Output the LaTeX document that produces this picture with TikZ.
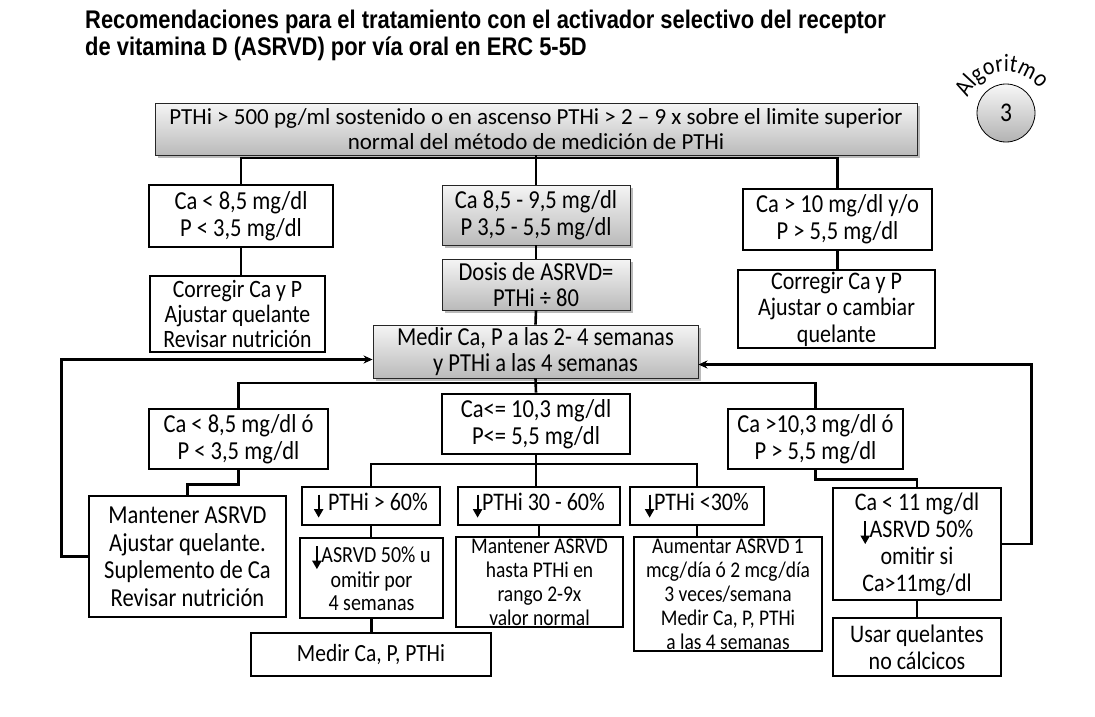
\documentclass[tikz,border=0pt]{standalone}
\usepackage{fontspec}
\setmainfont{Carlito}[FakeStretch=0.87]
\newfontfamily\plainfont{Carlito}
\newfontfamily\titlefont[FakeStretch=0.86]{Liberation Sans}
\usetikzlibrary{arrows.meta,shadows,decorations.text}
\newcommand\fsz[2]{\fontsize{#1}{#2}\selectfont}
\newcommand\darr{\tikz[baseline=0pt,x=1pt,y=1pt]\draw[line width=2.2pt,-{Triangle[length=8.5pt,width=9pt]}] (0,16) -- (0,-7);}
\begin{document}
\begin{tikzpicture}[x=1pt,y=-1pt,
  box/.style={draw, line width=2.6pt, align=center, inner sep=0pt},
  gbox/.style={draw=black!85, line width=0.9pt, align=center, inner sep=0pt,
    top color=black!4, bottom color=black!27,
    drop shadow={shadow xshift=2.5pt, shadow yshift=-2.5pt, opacity=0.45, fill=black!60}},
  link/.style={line width=2.6pt},
  arr/.style={link, -{Stealth[length=9pt,width=8pt]}},
  ttl/.style={anchor=base west, inner sep=0pt, font=\titlefont\bfseries\fsz{25.5}{27}}]
\fill[white] (0,0) rectangle (1095,717);
\useasboundingbox (0,0) rectangle (1095,717);

% title
\node[ttl] (t1) at (85,28.5) {Recomendaciones para el tratamiento con el activador selectivo del receptor};
\node[ttl] (t2) at (85,55.5) {de vitamina D (ASRVD) por vía oral en ERC 5-5D};

% algoritmo badge
\node[circle, draw, line width=0.8pt, minimum size=58pt, inner sep=0pt,
  top color=black!3, bottom color=black!30, font=\fsz{27}{27}] (alg) at (1006,113) {3};
\path[decorate, decoration={text along path, text={|\fsz{25}{25}|Algoritmo}, text align=center}]
  (alg.center) ++(-170:41) arc[start angle=-170, end angle=-24, radius=41];

% nodes
\node[gbox, minimum width=762pt, minimum height=52pt, font=\plainfont\fsz{23}{24.5}] (top) at (536,129)
  {PTHi > 500 pg/ml sostenido o en ascenso PTHi > 2 – 9 x sobre el limite superior\\normal del método de medición de PTHi};

\node[box, minimum width=184pt, minimum height=62pt, font=\fsz{25.9}{27}] (a1) at (241,216) {Ca < 8,5 mg/dl\\P < 3,5 mg/dl};
\node[gbox, minimum width=188pt, minimum height=60pt, font=\fsz{25.9}{27}] (b1) at (536,215) {Ca 8,5 - 9,5 mg/dl\\P 3,5 - 5,5 mg/dl};
\node[box, minimum width=189pt, minimum height=61pt, font=\fsz{25.9}{27}] (c1) at (837.5,219.5) {Ca > 10 mg/dl y/o\\P > 5,5 mg/dl};

\node[box, minimum width=175pt, minimum height=76pt, font=\fsz{25}{25}] (a2) at (237.5,314) {Corregir Ca y P\\Ajustar quelante\\Revisar nutrición};
\node[gbox, minimum width=188pt, minimum height=51pt, font=\fsz{25.9}{26}] (b2) at (536,284.5) {Dosis de ASRVD=\\PTHi ÷ 80};
\node[box, minimum width=197pt, minimum height=78pt, font=\fsz{25.3}{26.5}] (c2) at (836.5,309) {Corregir Ca y P\\Ajustar o cambiar\\quelante};

\node[gbox, minimum width=325pt, minimum height=53pt, font=\fsz{25.9}{26}] (m) at (535.5,351.5) {Medir Ca, P a las 2- 4 semanas\\y PTHi a las 4 semanas};

\node[box, minimum width=179pt, minimum height=60pt, font=\fsz{25.9}{27}] (d1) at (238.5,439) {Ca < 8,5 mg/dl ó\\P < 3,5 mg/dl};
\node[box, minimum width=188pt, minimum height=60pt, font=\fsz{25.9}{27}] (e1) at (536,424) {Ca<= 10,3 mg/dl\\P<= 5,5 mg/dl};
\node[box, minimum width=175pt, minimum height=60pt, font=\fsz{25.9}{27}] (f1) at (815.5,439) {Ca >10,3 mg/dl ó\\P > 5,5 mg/dl};

\node[box, minimum width=197pt, minimum height=121pt, font=\fsz{25.9}{27.5}] (d2) at (187.5,556.5) {Mantener ASRVD\\Ajustar quelante.\\Suplemento de Ca\\Revisar nutrición};
\node[box, minimum width=138pt, minimum height=38pt, font=\fsz{25.3}{26}] (g1) at (371,506) {\darr\ PTHi > 60\%};
\node[box, minimum width=162pt, minimum height=38pt, font=\fsz{25.3}{26}] (h1) at (539,506) {\darr PTHi 30 - 60\%};
\node[box, minimum width=134pt, minimum height=38pt, font=\fsz{25.3}{26}] (i1) at (697,506) {\darr PTHi <30\%};
\node[box, minimum width=168pt, minimum height=112pt, font=\fsz{25.3}{27}] (f2) at (917,544) {Ca < 11 mg/dl\\\darr ASRVD 50\%\\omitir si\\Ca>11mg/dl};

\node[box, minimum width=143pt, minimum height=80pt, font=\fsz{23}{23.5}] (g2) at (371.5,578) {\darr ASRVD 50\% u\\omitir por\\4 semanas};
\node[box, minimum width=167pt, minimum height=90pt, font=\fsz{22.4}{24}] (h2) at (539.5,582) {Mantener ASRVD\\hasta PTHi en\\rango 2-9x\\valor normal};
\node[box, minimum width=188pt, minimum height=114pt, font=\fsz{22.4}{24}] (i2) at (728,594) {Aumentar ASRVD 1\\mcg/día ó 2 mcg/día\\3 veces/semana\\Medir Ca, P, PTHi\\a las 4 semanas};

\node[box, minimum width=240pt, minimum height=43pt, font=\fsz{24.7}{26}] (g3) at (371,654.5) {Medir Ca, P, PTHi};
\node[box, minimum width=168pt, minimum height=58pt, font=\fsz{25.3}{27}] (f3) at (917,647) {Usar quelantes\\no cálcicos};

% connectors
\coordinate (s1) at (536,158);
\draw[link] (a1.north) |- (s1) -| (c1.north);
\draw[link] (top.south) -- (b1.north);
\draw[link] (a1.south) -- (a1.south |- a2.north);
\draw[link] (c1.south) -- (c1.south |- c2.north);
\draw[link] (b1.south) -- (b2.north);
\draw[link] (b2.south) -- (m.north);
\coordinate (s2) at (536,383);
\draw[link] (d1.north) |- (s2) -| (f1.north);
\draw[link] (m.south) -- (e1.north);
\draw[link] (d1.south) -- ++(0,14) -| (d2.north);
\draw[link] (f1.south) -- ++(0,9) -| (f2.north);
\coordinate (s3) at (536,464);
\draw[link] (g1.north) |- (s3) -| (i1.north);
\draw[link] (e1.south) -- (e1.south |- h1.north);
\draw[link] (g1.south) -- (g1.south |- g2.north);
\draw[link] (h1.south) -- (h1.south |- h2.north);
\draw[link] (i1.south) -- (i1.south |- i2.north);
\draw[link] (g2.south) -- (g2.south |- g3.north);
\draw[link] (f2.south) -- (f3.north);
\draw[arr] (d2.west) -- ++(-26,0) |- ([yshift=-8pt]m.west);
\draw[arr] (f2.east) -- ++(29,0) |- ([yshift=-13pt]m.east);
\end{tikzpicture}
\end{document}
